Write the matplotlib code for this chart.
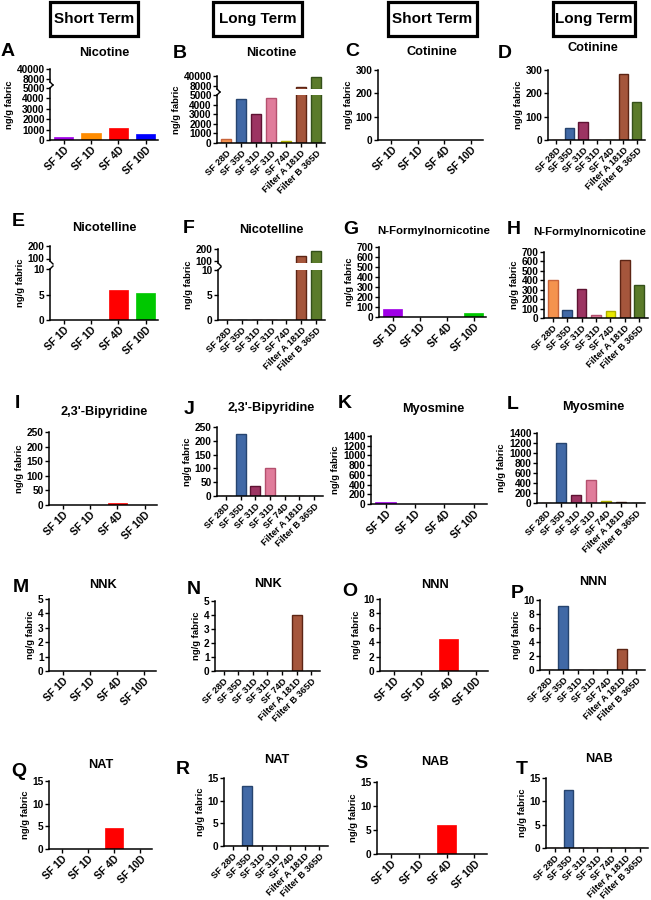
import matplotlib
matplotlib.use('Agg')
import matplotlib.pyplot as plt
from matplotlib.patches import Rectangle
from matplotlib.lines import Line2D

plt.rcParams['font.family'] = ['Liberation Sans', 'DejaVu Sans']
plt.rcParams['font.weight'] = 'bold'
plt.rcParams['axes.labelweight'] = 'bold'

# categories
short_labels = ['SF 1D', 'SF 1D', 'SF 4D', 'SF 10D']
long_labels = ['SF 28D', 'SF 35D', 'SF 31D', 'SF 31D', 'SF 74D', 'Filter A 181D', 'Filter B 365D']

# values (ng/g fabric)
nicotine_short = [300, 700, 1150, 620]
nicotine_long = [400, 4550, 3030, 4690, 200, 6000, 35800]
cotinine_short = [0, 0, 0, 0]
cotinine_long = [0, 51, 77, 0, 0, 281, 165]
nicotelline_short = [0, 0, 5.8, 5.2]
nicotelline_long = [0, 0, 0, 0, 0, 140, 183]
formyl_short = [78, 0, 0, 42]
formyl_long = [400, 82, 305, 36, 70, 615, 348]
bipyridine_short = [0, 0, 7, 0]
bipyridine_long = [0, 225, 37, 100, 0, 0, 0]
myosmine_short = [40, 0, 0, 0]
myosmine_long = [0, 1200, 160, 453, 47, 27, 0]
nnk_short = [0, 0, 0, 0]
nnk_long = [0, 0, 0, 0, 0, 4, 0]
nnn_short = [0, 0, 4.4, 0]
nnn_long = [0, 9.2, 0, 0, 0, 3.0, 0]
nat_short = [0, 0, 4.6, 0]
nat_long = [0, 13.3, 0, 0, 0, 0, 0]
nab_short = [0, 0, 6.0, 0]
nab_long = [0, 12.4, 0, 0, 0, 0, 0]

# colours
short_colors = ['#9f00e6', '#ff8c00', '#ff0000', '#00c800']
short_colors_nic = ['#9f00e6', '#ff8c00', '#ff0000', '#0000ff']
long_colors = ['#f4934e', '#4169a6', '#9c3462', '#e07c9b', '#e8e800', '#a5563c', '#5b7b2a']
long_edges = ['#c8643a', '#26446f', '#5e1232', '#b4506e', '#b0b000', '#5c2414', '#34501a']

W, H = 651, 900
fig = plt.figure(figsize=(W / 100, H / 100), dpi=100)


def add_ax(l, r, t, b):
    return fig.add_axes([l / W, 1 - b / H, (r - l) / W, (b - t) / H])


def draw_bars(ax, vals, kind, colors=None):
    if kind == 'short':
        n = len(short_labels)
        cols = colors or short_colors
        ax.bar(range(n), vals, width=0.7, color=cols, edgecolor=cols, linewidth=0.5)
        ax.set_xlim(-0.5, n - 0.55)
        labels, fs = short_labels, 7.4
    else:
        n = len(long_labels)
        ax.bar(range(n), vals, width=0.68, color=long_colors, edgecolor=long_edges, linewidth=1.0)
        ax.set_xlim(-0.6, n - 0.4)
        labels, fs = long_labels, 6.7
    for s in ['top', 'right']:
        ax.spines[s].set_visible(False)
    ax.spines['left'].set_linewidth(1.1)
    ax.spines['bottom'].set_linewidth(1.1)
    ax.tick_params(axis='both', direction='out', length=3, width=1, labelsize=7.3, pad=0.8)
    ax.set_xticks(range(n))
    ax.set_xticklabels(labels, rotation=45, ha='right', rotation_mode='anchor', fontsize=fs)


def panel(box, vals, kind, yticks, colors=None):
    l, r, t, b = box
    ax = add_ax(l, r, t, b)
    draw_bars(ax, vals, kind, colors)
    ax.set_ylim(0, yticks[-1])
    ax.set_yticks(yticks)
    ax.set_ylabel('ng/g fabric', fontsize=6.8, labelpad=2)
    return ax


def broken_panel(l, r, up, lo, vals, kind, lo_ticks, up_lim, up_ticks, colors=None):
    ax_lo = add_ax(l, r, lo[0], lo[1])
    ax_up = add_ax(l, r, up[0], up[1])
    draw_bars(ax_lo, vals, kind, colors)
    # only bars that pass the lower segment show up in the upper one
    draw_bars(ax_up, [v if v > lo_ticks[-1] else float('nan') for v in vals], kind, colors)
    ax_lo.set_ylim(0, lo_ticks[-1])
    ax_lo.set_yticks(lo_ticks)
    ax_up.set_ylim(*up_lim)
    ax_up.set_yticks(up_ticks)
    ax_up.spines['bottom'].set_visible(False)
    ax_up.tick_params(axis='x', bottom=False, labelbottom=False)
    ax_up.set_ylabel('ng/g fabric', fontsize=6.8, labelpad=2)
    cy = (up[0] + lo[1]) / 2
    ax_up.yaxis.label.set_y((up[1] - cy) / (up[1] - up[0]))
    # break marks on the y axis
    for yy, d in [(up[1], 1), (lo[0], -1)]:
        fig.add_artist(Line2D([l / W, (l + 3) / W], [1 - yy / H, 1 - (yy + 3 * d) / H],
                              transform=fig.transFigure, color='k', lw=1))
    return ax_lo, ax_up


def label(letter, x, y):
    fig.text(x / W, 1 - y / H, letter, fontsize=14, ha='left', va='center')


def title(txt, x, y, fs=9.2):
    fig.text(x / W, 1 - y / H, txt, fontsize=fs, ha='center', va='center')


# header boxes
for txt, x0, x1 in [('Short Term', 50, 138), ('Long Term', 213, 302),
                    ('Short Term', 388, 477), ('Long Term', 553, 635)]:
    fig.add_artist(Rectangle((x0 / W, 1 - 36 / H), (x1 - x0) / W, 34 / H,
                             transform=fig.transFigure, fill=False, lw=2.3, edgecolor='k'))
    fig.text((x0 + x1) / 2 / W, 1 - 19 / H, txt, fontsize=11, ha='center', va='center')

# row 1
broken_panel(50, 158, (69, 82), (88, 140), nicotine_short, 'short',
             [0, 1000, 2000, 3000, 4000, 5000], (0, 40000), [8000, 40000], short_colors_nic)
label('A', 1, 52); title('Nicotine', 104, 53)
broken_panel(217, 325, (76, 89), (95, 143), nicotine_long, 'long',
             [0, 1000, 2000, 3000, 4000, 5000], (0, 40000), [8000, 40000])
label('B', 173, 53); title('Nicotine', 271, 53)
panel((378, 483, 70, 140), cotinine_short, 'short', [0, 100, 200, 300])
label('C', 345, 52); title('Cotinine', 432, 52)
panel((548, 645, 70, 140), cotinine_long, 'long', [0, 100, 200, 300])
label('D', 498, 53); title('Cotinine', 593, 48)

# row 2
broken_panel(50, 158, (246, 261), (269, 320), nicotelline_short, 'short',
             [0, 5, 10], (80, 200), [100, 200])
label('E', 12, 222); title('Nicotelline', 104, 228)
broken_panel(218, 325, (249, 263), (270, 320), nicotelline_long, 'long',
             [0, 5, 10], (80, 200), [100, 200])
label('F', 183, 228); title('Nicotelline', 271, 230)
panel((379, 486, 247, 317), formyl_short, 'short', [0, 100, 200, 300, 400, 500, 600, 700])
label('G', 343, 229); title('N-Formylnornicotine', 434, 231, 8.2)
panel((544, 648, 252, 318), formyl_long, 'long', [0, 100, 200, 300, 400, 500, 600, 700])
label('H', 507, 229); title('N-Formylnornicotine', 590, 232, 8.2)

# row 3
panel((49, 157, 432, 505), bipyridine_short, 'short', [0, 50, 100, 150, 200, 250])
label('I', 15, 404); title("2,3'-Bipyridine", 104, 412)
panel((217, 323, 427, 496), bipyridine_long, 'long', [0, 50, 100, 150, 200, 250])
label('J', 184, 409); title("2,3'-Bipyridine", 271, 408)
panel((371, 487, 436, 504), myosmine_short, 'short', [0, 200, 400, 600, 800, 1000, 1200, 1400])
label('K', 338, 404); title('Myosmine', 433, 409)
panel((537, 645, 433, 503), myosmine_long, 'long', [0, 200, 400, 600, 800, 1000, 1200, 1400])
label('L', 507, 405); title('Myosmine', 593, 407)

# row 4
panel((49, 156, 599, 671), nnk_short, 'short', [0, 1, 2, 3, 4, 5])
label('M', 13, 588); title('NNK', 103, 585)
panel((215, 320, 601, 671), nnk_long, 'long', [0, 1, 2, 3, 4, 5])
label('N', 187, 590); title('NNK', 268, 584)
panel((380, 488, 599, 671), nnn_short, 'short', [0, 2, 4, 6, 8, 10])
label('O', 342, 591); title('NNN', 435, 585)
panel((540, 645, 600, 670), nnn_long, 'long', [0, 2, 4, 6, 8, 10])
label('P', 511, 594); title('NNN', 593, 582)

# row 5
panel((49, 152, 781, 849), nat_short, 'short', [0, 5, 10, 15])
label('Q', 11, 772); title('NAT', 101, 765)
panel((224, 328, 778, 846), nat_long, 'long', [0, 5, 10, 15])
label('R', 176, 770); title('NAT', 277, 760)
panel((377, 487, 782, 854), nab_short, 'short', [0, 5, 10, 15])
label('S', 354, 764); title('NAB', 435, 762)
panel((546, 648, 778, 848), nab_long, 'long', [0, 5, 10, 15])
label('T', 516, 769); title('NAB', 599, 759)

fig.savefig('out.png', dpi=100)
